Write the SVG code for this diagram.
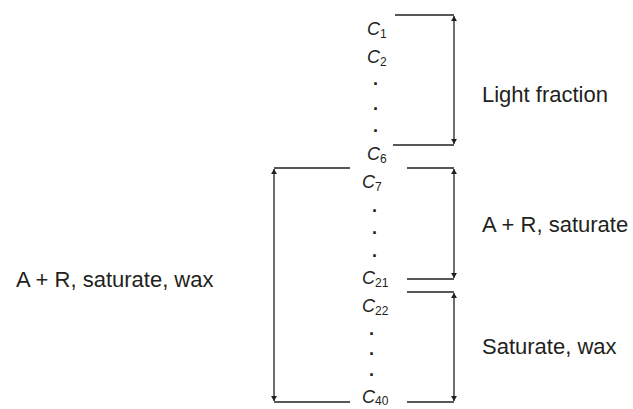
<svg xmlns="http://www.w3.org/2000/svg" width="633" height="409" viewBox="0 0 633 409">
<style>
.c{font-family:"Liberation Sans",Arial,sans-serif;font-size:18px;font-style:italic;fill:#231f20}
.s{font-size:12px;font-style:normal}
.d{font-family:"Liberation Sans",Arial,sans-serif;font-size:18px;font-weight:bold;fill:#231f20}
.l{font-family:"Liberation Sans",Arial,sans-serif;font-size:22px;fill:#231f20}
.ln{stroke:#231f20;stroke-width:1.3;fill:none}
</style>
<defs>
<marker id="ah" viewBox="0 0 10 10" refX="10" refY="5" markerWidth="5" markerHeight="6" markerUnits="userSpaceOnUse" orient="auto-start-reverse" preserveAspectRatio="none">
<path d="M0,0 L10,5 L0,10 z" fill="#231f20"/>
</marker>
</defs>
<g id="connectors">
<path class="ln" d="M395,15 H454 M393,145 H454"/>
<path class="ln" d="M454,16 V144" marker-start="url(#ah)" marker-end="url(#ah)"/>
<path class="ln" d="M407,168 H454 M407,279 H454"/>
<path class="ln" d="M454,169 V278" marker-start="url(#ah)" marker-end="url(#ah)"/>
<path class="ln" d="M407,292 H454 M407,402 H454"/>
<path class="ln" d="M454,293 V401" marker-start="url(#ah)" marker-end="url(#ah)"/>
<path class="ln" d="M350,168 H274 M350,402 H274"/>
<path class="ln" d="M274,169 V401" marker-start="url(#ah)" marker-end="url(#ah)"/>
</g>
<g id="carbons">
<text class="c" x="367" y="35">C<tspan class="s" dy="3">1</tspan></text>
<text class="c" x="367" y="63">C<tspan class="s" dy="3">2</tspan></text>
<text class="d" x="373" y="85">.</text>
<text class="d" x="373" y="110">.</text>
<text class="d" x="373" y="132">.</text>
<text class="c" x="367" y="160">C<tspan class="s" dy="3">6</tspan></text>
<text class="c" x="362" y="188">C<tspan class="s" dy="3">7</tspan></text>
<text class="d" x="372" y="212">.</text>
<text class="d" x="372" y="234">.</text>
<text class="d" x="372" y="257">.</text>
<text class="c" x="362" y="284">C<tspan class="s" dy="3">21</tspan></text>
<text class="c" x="362" y="312">C<tspan class="s" dy="3">22</tspan></text>
<text class="d" x="369" y="335">.</text>
<text class="d" x="369" y="355">.</text>
<text class="d" x="369" y="376">.</text>
<text class="c" x="362" y="403">C<tspan class="s" dy="2">40</tspan></text>
</g>
<g id="light"><text class="l" x="482" y="102">Light fraction</text></g>
<g id="ar-sat"><text class="l" x="482" y="232">A + R, saturate</text></g>
<g id="sat-wax"><text class="l" x="482" y="354">Saturate, wax</text></g>
<g id="ar-sat-wax"><text class="l" x="16" y="287">A + R, saturate, wax</text></g>
</svg>
